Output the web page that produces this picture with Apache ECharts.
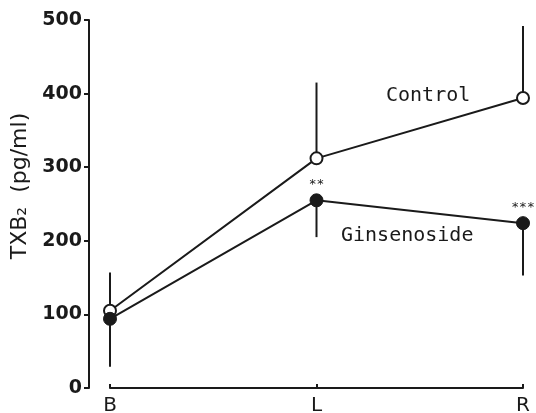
<!DOCTYPE html>
<html>
<head>
<meta charset="utf-8">
<script src="https://cdn.jsdelivr.net/npm/echarts@6/dist/echarts.min.js"></script>
<style>
html,body{margin:0;padding:0;background:#fff;}
#chart{width:536px;height:413px;}
</style>
</head>
<body>
<div id="chart"></div>
<script>
var categories = ['B', 'L', 'R'];
var controlValues = [105, 312, 394];
var ginsenosideValues = [94, 255, 224];
var controlUpper = [157, 415, 492];
var ginsenosideLower = [29, 205, 153];
var ginsenosideMarks = ['', '**', '***'];
var yTicks = [0, 100, 200, 300, 400, 500];

var ink = '#1a1a1a';
var chart = echarts.init(document.getElementById('chart'), null, {renderer: 'canvas'});

function errorSeries(name, centers, ends) {
  return {
    type: 'custom',
    name: name,
    z: 1,
    silent: true,
    data: categories.map(function (c, i) { return [i, centers[i], ends[i]]; }),
    renderItem: function (params, api) {
      var p0 = api.coord([api.value(0), api.value(1)]);
      var p1 = api.coord([api.value(0), api.value(2)]);
      return {
        type: 'line',
        shape: {x1: p0[0], y1: p0[1], x2: p1[0], y2: p1[1]},
        style: {stroke: ink, lineWidth: 2}
      };
    }
  };
}

chart.setOption({
  backgroundColor: '#ffffff',
  animation: false,
  grid: {left: 110, right: 13, top: 20, bottom: 25, containLabel: false, outerBoundsMode: 'none'},
  xAxis: {
    type: 'category',
    data: categories,
    boundaryGap: false,
    axisLine: {lineStyle: {color: ink, width: 2}},
    axisTick: {show: true, inside: true, length: 4, lineStyle: {color: ink, width: 2}},
    axisLabel: {color: ink, fontFamily: 'DejaVu Sans', fontSize: 20, margin: 8}
  },
  yAxis: {
    type: 'value',
    min: yTicks[0],
    max: yTicks[yTicks.length - 1],
    interval: 100,
    offset: 21,
    splitLine: {show: false},
    axisLine: {show: true, lineStyle: {color: ink, width: 2}},
    axisTick: {show: true, length: 5, lineStyle: {color: ink, width: 2}},
    axisLabel: {color: ink, fontFamily: 'DejaVu Sans', fontWeight: 'bold', fontSize: 19, margin: 7},
    name: 'TXB\u2082  (pg/ml)',
    nameLocation: 'middle',
    nameGap: 56,
    nameTextStyle: {color: ink, fontFamily: 'DejaVu Sans', fontSize: 22, padding: [0, 0, 0, 36]}
  },
  series: [
    errorSeries('controlErr', controlValues, controlUpper),
    errorSeries('ginsenosideErr', ginsenosideValues, ginsenosideLower),
    {
      type: 'line',
      name: 'Control',
      z: 3,
      data: controlValues,
      symbol: 'circle',
      symbolSize: 12,
      lineStyle: {color: ink, width: 2},
      itemStyle: {color: '#ffffff', borderColor: ink, borderWidth: 2}
    },
    {
      type: 'line',
      name: 'Ginsenoside',
      z: 4,
      data: ginsenosideValues.map(function (v, i) {
        return {
          value: v,
          label: {
            show: ginsenosideMarks[i] !== '',
            formatter: ginsenosideMarks[i],
            position: 'top',
            distance: 2,
            color: ink,
            fontFamily: 'DejaVu Sans Mono',
            fontSize: 13
          }
        };
      }),
      symbol: 'circle',
      symbolSize: 13,
      lineStyle: {color: ink, width: 2},
      itemStyle: {color: ink, borderColor: ink, borderWidth: 1}
    }
  ],
  graphic: [
    {type: 'text', left: 386, top: 86, style: {text: 'Control', fill: ink, font: '20px "DejaVu Sans Mono"'}},
    {type: 'text', left: 341, top: 226, style: {text: 'Ginsenoside', fill: ink, font: '20px "DejaVu Sans Mono"'}}
  ]
});
</script>
</body>
</html>
